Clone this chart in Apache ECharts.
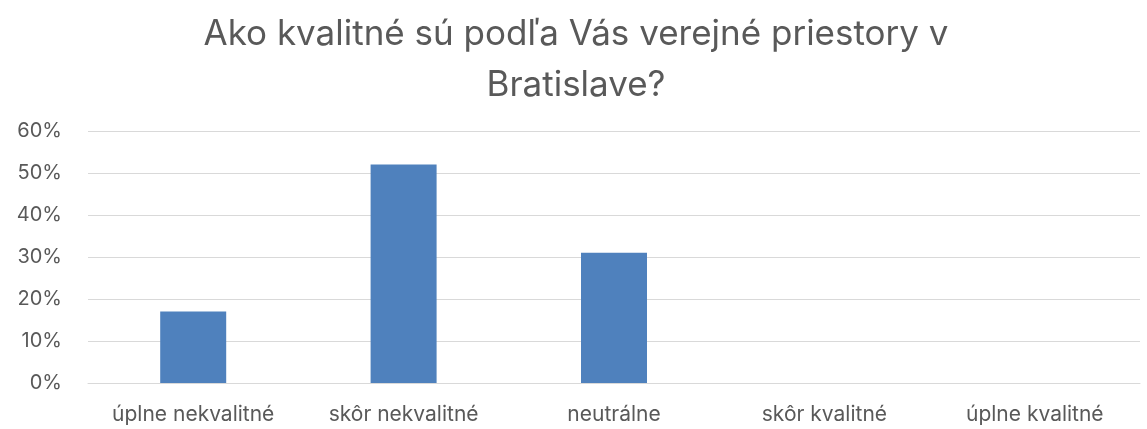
<!DOCTYPE html>
<html>
<head>
<meta charset="utf-8">
<script src="https://cdn.jsdelivr.net/npm/echarts@6/dist/echarts.min.js"></script>
<style>
  html, body { margin: 0; padding: 0; background: #fff; }
  #chart { width: 1147px; height: 429px; }
</style>
</head>
<body>
<div id="chart"></div>
<script>
const categories = ['úplne nekvalitné', 'skôr nekvalitné', 'neutrálne', 'skôr kvalitné', 'úplne kvalitné'];
const values = [0.17, 0.52, 0.31, 0, 0];

const chart = echarts.init(document.getElementById('chart'));
chart.setOption({
  animation: false,
  title: {
    text: 'Ako kvalitné sú podľa Vás verejné priestory v\nBratislave?',
    left: 571,
    textAlign: 'center',
    top: 4,
    textStyle: {
      fontFamily: 'Inter',
      fontSize: 35,
      fontWeight: 'normal',
      color: '#595959',
      lineHeight: 51
    }
  },
  grid: { left: 88, right: 7, top: 131, bottom: 46 },
  xAxis: {
    type: 'category',
    data: categories,
    axisLine: { lineStyle: { color: '#d9d9d9', width: 1 } },
    axisTick: { show: false },
    axisLabel: {
      interval: 0,
      fontFamily: 'Inter',
      fontSize: 21,
      color: '#595959',
      margin: 21
    }
  },
  yAxis: {
    type: 'value',
    min: 0,
    max: 0.6,
    interval: 0.1,
    axisLine: { show: false },
    axisTick: { show: false },
    splitLine: { lineStyle: { color: '#d9d9d9', width: 1 } },
    axisLabel: {
      fontFamily: 'Inter',
      fontSize: 20,
      color: '#595959',
      margin: 26,
      formatter: v => Math.round(v * 100) + '%'
    }
  },
  series: [{
    type: 'bar',
    data: values,
    barWidth: 66,
    itemStyle: { color: '#4f81bd' }
  }]
});
</script>
</body>
</html>
